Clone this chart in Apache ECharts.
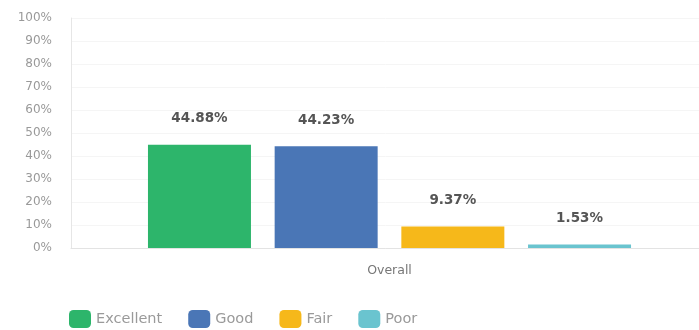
<!DOCTYPE html>
<html>
<head>
<meta charset="utf-8">
<script src="https://cdn.jsdelivr.net/npm/echarts@6/dist/echarts.min.js"></script>
<style>
  html, body { margin: 0; padding: 0; background: #fff; }
  #chart { width: 699px; height: 330px; }
</style>
</head>
<body>
<div id="chart"></div>
<script>
// Rating shares for the overall score
const categories = ['Overall'];
const seriesNames = ['Excellent', 'Good', 'Fair', 'Poor'];
const excellentValues = [44.88];
const goodValues = [44.23];
const fairValues = [9.37];
const poorValues = [1.53];
const yTicks = [0, 10, 20, 30, 40, 50, 60, 70, 80, 90, 100];

const colors = ['#2db56b', '#4a76b6', '#f6b81a', '#6ac4cf'];
const valueLists = [excellentValues, goodValues, fairValues, poorValues];
const FONT = '"DejaVu Sans", sans-serif';

const chart = echarts.init(document.getElementById('chart'));
chart.setOption({
  animation: false,
  textStyle: { fontFamily: FONT },
  grid: { left: 71, width: 637, top: 18, bottom: 82, outerBoundsMode: 'none', containLabel: false },
  legend: {
    left: 64,
    top: 305,
    itemWidth: 22,
    itemHeight: 18,
    itemGap: 26,
    icon: 'roundRect',
    data: seriesNames,
    textStyle: { color: '#9a9a9a', fontSize: 14.5, fontFamily: FONT }
  },
  xAxis: {
    type: 'category',
    data: categories,
    axisLine: { lineStyle: { color: '#e3e3e3' } },
    axisTick: { show: false },
    axisLabel: { color: '#777', fontSize: 12.5, margin: 16 }
  },
  yAxis: {
    type: 'value',
    min: yTicks[0],
    max: yTicks[yTicks.length - 1],
    interval: yTicks[1] - yTicks[0],
    axisLine: { show: true, lineStyle: { color: '#e6e6e6' } },
    axisTick: { show: false },
    splitLine: { lineStyle: { color: '#f5f5f5' } },
    axisLabel: { color: '#999', fontSize: 12, margin: 19, formatter: '{value}%' }
  },
  series: seriesNames.map((name, i) => ({
    name: name,
    type: 'bar',
    data: valueLists[i],
    barWidth: 103,
    barGap: '23%',
    itemStyle: { color: colors[i] },
    label: {
      show: true,
      position: 'top',
      distance: 19,
      color: '#555',
      fontSize: 13.5,
      fontWeight: 'bold',
      formatter: p => p.value.toFixed(2) + '%'
    }
  }))
});
</script>
</body>
</html>
